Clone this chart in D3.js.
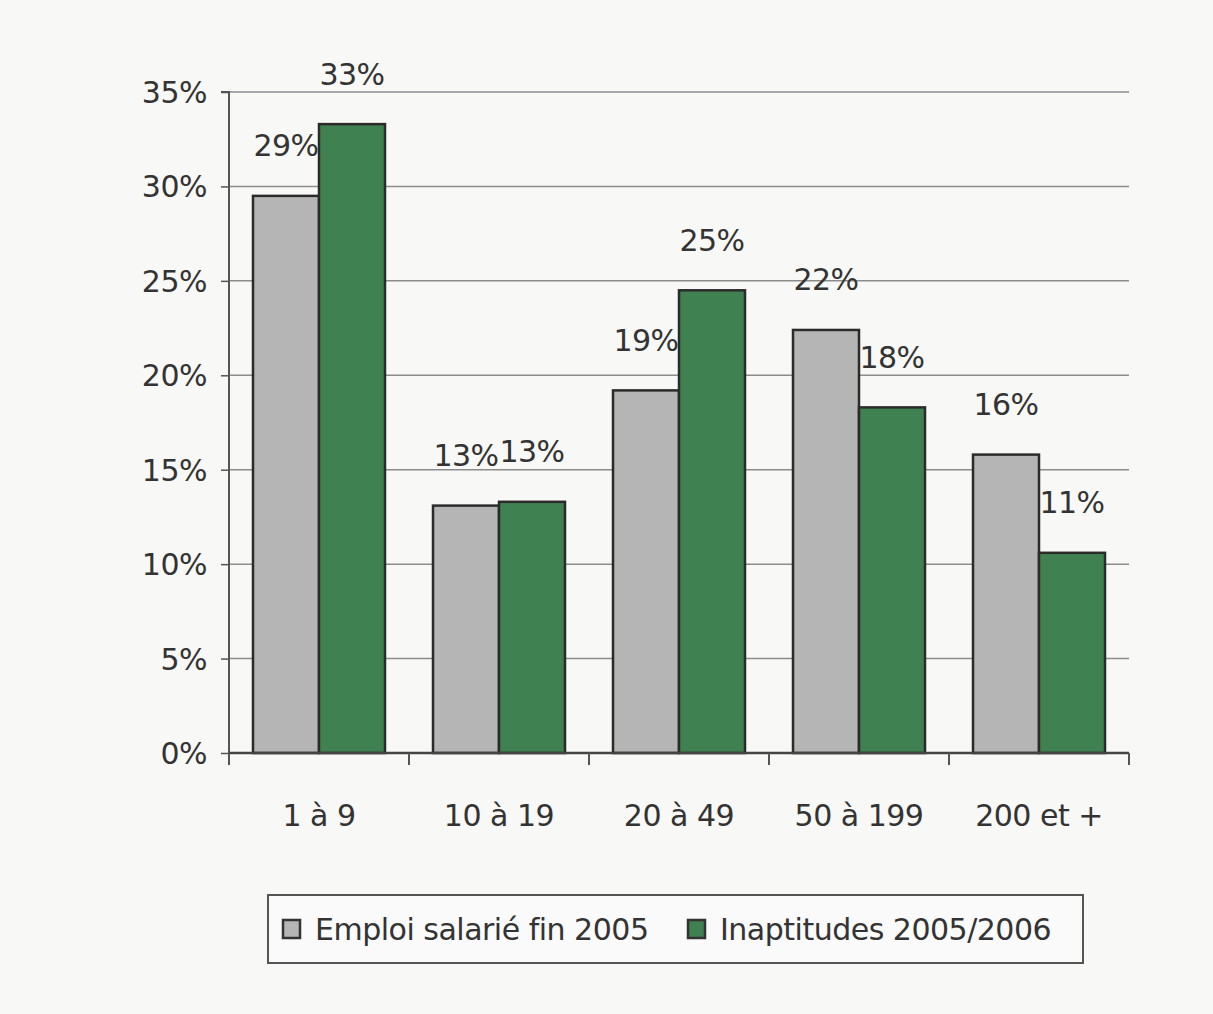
<!DOCTYPE html>
<html><head><meta charset="utf-8">
<script src="https://cdn.jsdelivr.net/npm/d3@7"></script>
<style>
html,body{margin:0;padding:0;background:#f8f8f6;}
svg{display:block;}
text{font-family:"DejaVu Sans",sans-serif;fill:#333;}
</style></head>
<body>
<svg id="c" width="1213" height="1014"></svg>
<script>
const categories = ["1 à 9","10 à 19","20 à 49","50 à 199","200 et +"];
const seriesNames = ["Emploi salarié fin 2005","Inaptitudes 2005/2006"];
const emploi = [29.5, 13.1, 19.2, 22.4, 15.8];
const inaptitudes = [33.3, 13.3, 24.5, 18.3, 10.6];
const emploiLabels = ["29%","13%","19%","22%","16%"];
const inaptLabels = ["33%","13%","25%","18%","11%"];
const yTicks = [0,5,10,15,20,25,30,35];
const colors = ["#b5b5b5","#3f8150"];

const svg = d3.select("#c");
const m = {left:229, right:1129, top:92, bottom:753};
const x = d3.scaleBand().domain(categories).range([m.left,m.right]).paddingInner(0.2667).paddingOuter(0.1333);
const x1 = d3.scaleBand().domain(seriesNames).range([0,x.bandwidth()]);
const y = d3.scaleLinear().domain([0,35]).range([m.bottom,m.top]);
const FS = "30px", LS = "-0.5px";

// gridlines
svg.append("g").selectAll("line").data(yTicks.filter(d=>d>0)).join("line")
  .attr("x1",m.left).attr("x2",m.right).attr("y1",d=>y(d)).attr("y2",d=>y(d))
  .attr("stroke","#8c8c8c").attr("stroke-width",1.5);

// y axis
const ya = svg.append("g").attr("transform",`translate(${m.left},0)`)
  .call(d3.axisLeft(y).tickValues(yTicks).tickFormat(d=>d+"%").tickSize(8).tickPadding(14));
ya.select(".domain").attr("stroke","#555").attr("stroke-width",2).attr("d",`M-8,${m.top}H0V${m.bottom+12}`);
ya.selectAll(".tick line").attr("stroke","#555").attr("stroke-width",1.5);
ya.selectAll("text").style("font-size",FS).style("letter-spacing",LS).style("font-family","DejaVu Sans").attr("fill","#333").attr("dy","0.35em");

const data = categories.map((c,i)=>({c, vals:[emploi[i],inaptitudes[i]], labs:[emploiLabels[i],inaptLabels[i]]}));

const g = svg.append("g").selectAll("g").data(data).join("g").attr("transform",d=>`translate(${x(d.c)},0)`);
g.selectAll("rect").data(d=>d.vals.map((v,j)=>({v,j,s:seriesNames[j]}))).join("rect")
  .attr("x",d=>x1(d.s)).attr("width",x1.bandwidth())
  .attr("y",d=>y(d.v)).attr("height",d=>y(0)-y(d.v))
  .attr("fill",d=>colors[d.j]).attr("stroke","#2b2b2b").attr("stroke-width",2.5);
g.selectAll("text.lab").data(d=>d.vals.map((v,j)=>({v,j,s:seriesNames[j],l:d.labs[j]}))).join("text")
  .attr("class","lab")
  .attr("x",d=>x1(d.s)+x1.bandwidth()/2)
  .attr("y",d=>y(d.v)-50)
  .attr("text-anchor","middle").attr("dy","0.35em")
  .style("font-size",FS).style("letter-spacing",LS)
  .text(d=>d.l);

// x axis
const xa = svg.append("g").attr("transform",`translate(0,${m.bottom})`);
xa.append("line").attr("x1",m.left).attr("x2",m.right).attr("y1",0).attr("y2",0).attr("stroke","#444").attr("stroke-width",2.5);
const bounds = categories.map(c=>x(c)-x.step()*x.paddingInner()/2).concat([m.right]);
xa.selectAll("line.t").data(bounds).join("line").attr("class","t")
  .attr("x1",d=>d).attr("x2",d=>d).attr("y1",0).attr("y2",12).attr("stroke","#555").attr("stroke-width",2);
xa.selectAll("text").data(categories).join("text")
  .attr("x",d=>x(d)+x.bandwidth()/2).attr("y",62).attr("text-anchor","middle").attr("dy","0.35em")
  .style("font-size",FS).style("letter-spacing",LS).text(d=>d);

// legend
const lg = svg.append("g");
lg.append("rect").attr("x",268).attr("y",895).attr("width",815).attr("height",68)
  .attr("fill","#fafafa").attr("stroke","#555").attr("stroke-width",2);
const lx = [283,688];
const items = lg.selectAll("g").data(seriesNames).join("g").attr("transform",(d,i)=>`translate(${lx[i]},929)`);
items.append("rect").attr("x",0).attr("y",-9).attr("width",17).attr("height",18)
  .attr("fill",(d,i)=>colors[i]).attr("stroke","#333").attr("stroke-width",2.5);
items.append("text").attr("x",32).attr("y",0).attr("dy","0.35em")
  .style("font-size",FS).style("letter-spacing",LS).text(d=>d);
</script>
</body></html>
